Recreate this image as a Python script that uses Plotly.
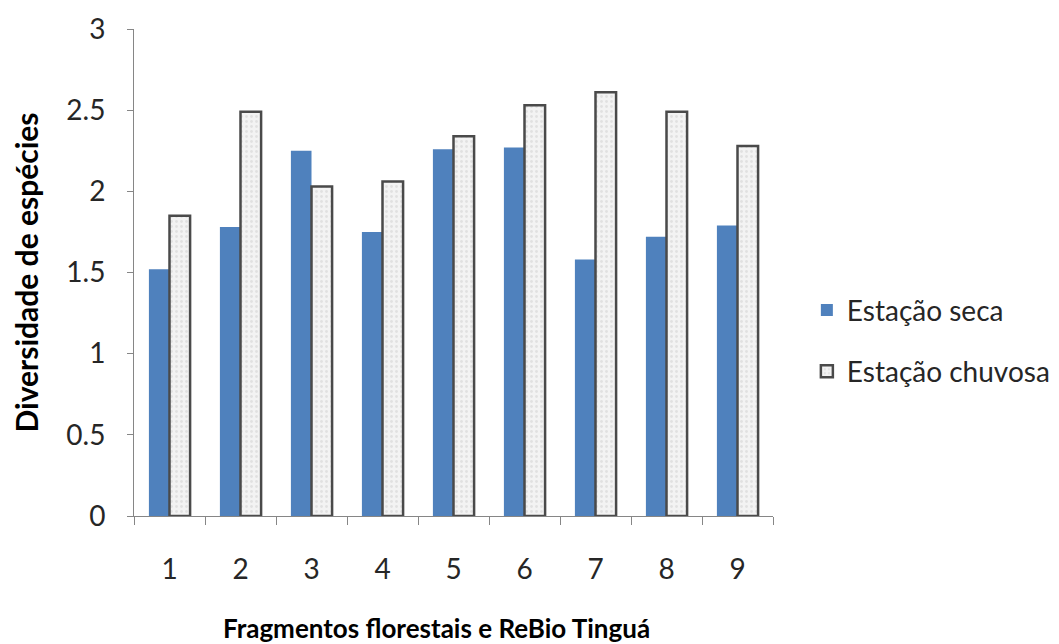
import plotly.graph_objects as go

# Diversity of species per forest fragment, dry vs. rainy season
fragmentos = ["1", "2", "3", "4", "5", "6", "7", "8", "9"]
estacao_seca = [1.52, 1.78, 2.25, 1.75, 2.26, 2.27, 1.58, 1.72, 1.79]
estacao_chuvosa = [1.85, 2.49, 2.03, 2.06, 2.34, 2.53, 2.61, 2.49, 2.28]
y_ticks = [0, 0.5, 1, 1.5, 2, 2.5, 3]

FONT = "Lato"
TXT = "#262626"
AXIS = "#868686"

fig = go.Figure()
fig.add_trace(go.Bar(
    x=fragmentos, y=estacao_seca, name="Estação seca",
    legendgroup="seca",
    marker=dict(color="#4F81BD", line=dict(width=0)),
))
fig.add_trace(go.Bar(
    x=fragmentos, y=estacao_chuvosa, name="Estação chuvosa",
    legendgroup="chuvosa",
    marker=dict(
        color="#efefef",
        line=dict(color="#4a4a4a", width=2.5),
        pattern=dict(shape=".", fgcolor="#cfcfcf", bgcolor="#f3f3f3",
                     size=5, solidity=0.25),
    ),
))

fig.update_layout(
    width=1059, height=644,
    margin=dict(l=134, r=286, t=29, b=128, autoexpand=False),
    paper_bgcolor="white", plot_bgcolor="white",
    barmode="group", bargap=0.42, bargroupgap=0,
    font=dict(family=FONT, size=28, color=TXT),
    showlegend=True,
    legend=dict(
        x=1.053, y=0.36, xanchor="left", yanchor="middle",
        font=dict(family=FONT, size=28, color=TXT),
        traceorder="grouped", tracegroupgap=22,
        itemwidth=30, bgcolor="rgba(0,0,0,0)",
    ),
    xaxis=dict(
        type="category", tickson="boundaries",
        showline=True, linecolor=AXIS, linewidth=1,
        ticks="outside", ticklen=8, tickcolor=AXIS,
        showgrid=False, zeroline=False,
        ticklabelstandoff=28,
        tickfont=dict(family=FONT, size=28, color=TXT),
    ),
    yaxis=dict(
        range=[0, 3], tickvals=y_ticks,
        ticktext=[str(v) for v in y_ticks],
        showline=True, linecolor=AXIS, linewidth=1,
        ticks="outside", ticklen=6, tickcolor=AXIS,
        showgrid=False, zeroline=False,
        ticklabelstandoff=16,
        tickfont=dict(family=FONT, size=28, color=TXT),
        title=dict(text="<b>Diversidade de espécies</b>",
                   font=dict(family=FONT, size=30, color="black"),
                   standoff=18),
    ),
    annotations=[dict(
        text="<b>Fragmentos florestais e ReBio Tinguá</b>",
        xref="paper", yref="paper", x=0.473, y=-0.229,
        xanchor="center", yanchor="middle", showarrow=False,
        font=dict(family=FONT, size=26, color="black"),
    )],
)

fig.write_html("out.html")
